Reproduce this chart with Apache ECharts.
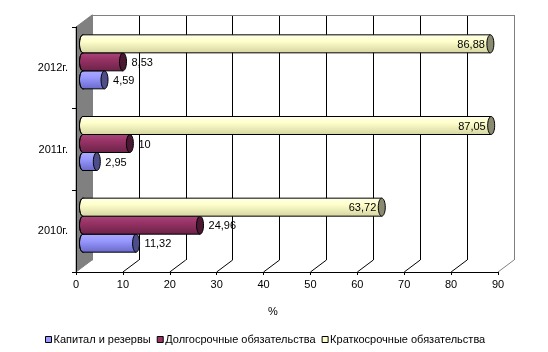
<!DOCTYPE html>
<html>
<head>
<meta charset="utf-8">
<script src="https://cdn.jsdelivr.net/npm/echarts@6/dist/echarts.min.js"></script>
<style>
  html, body { margin: 0; padding: 0; background: #fff; }
  #chart { width: 548px; height: 352px; }
</style>
</head>
<body>
<div id="chart"></div>
<script>
// данные
const categories = ['2010г.', '2011г.', '2012г.'];
const capital = [11.32, 2.95, 4.59];
const longTerm = [24.96, 10, 8.53];
const shortTerm = [63.72, 87.05, 86.88];
const xTicks = [0, 10, 20, 30, 40, 50, 60, 70, 80, 90];

// раскладка "3D": передняя плоскость, задняя стенка, плоскость столбцов
const FX = 76, FY = 27, FW = 422, FH = 245;
const DX = 16, DY = 12;
const BAR_H = 18;
const FONT = '"Liberation Sans", Arial, sans-serif';

const palettes = [
  { top: '#ababff', mid: '#9999ff', bottom: '#6a6acb', cap: '#4d4d8a' },
  { top: '#a8467a', mid: '#993366', bottom: '#6c2348', cap: '#4a1832' },
  { top: '#ffffe8', mid: '#ffffcc', bottom: '#d6d6a2', cap: '#8a8a70' }
];

const makeRender = (slot, pal) => (params, api) => {
  const v = api.value(0);
  const c = api.value(1);
  const start = api.coord([0, c]);
  const end = api.coord([v, c]);
  const yc = start[1] + (1 - slot) * BAR_H;
  const top = yc - BAR_H / 2;
  const bottom = yc + BAR_H / 2;
  const rx = 3.5;
  const fill = new echarts.graphic.LinearGradient(0, 0, 0, 1, [
    { offset: 0, color: pal.top },
    { offset: 0.35, color: pal.mid },
    { offset: 1, color: pal.bottom }
  ]);
  const inside = slot === 2;
  return {
    type: 'group',
    children: [
      { type: 'ellipse', shape: { cx: start[0], cy: yc, rx: rx, ry: BAR_H / 2 }, style: { fill: fill, stroke: '#000', lineWidth: 1 } },
      { type: 'rect', shape: { x: start[0], y: top, width: end[0] - start[0], height: BAR_H }, style: { fill: fill } },
      { type: 'line', shape: { x1: start[0], y1: top, x2: end[0], y2: top }, style: { stroke: '#000', lineWidth: 1 } },
      { type: 'line', shape: { x1: start[0], y1: bottom, x2: end[0], y2: bottom }, style: { stroke: '#000', lineWidth: 1 } },
      { type: 'ellipse', shape: { cx: end[0], cy: yc, rx: rx, ry: BAR_H / 2 }, style: { fill: pal.cap, stroke: '#000', lineWidth: 1 } },
      {
        type: 'text',
        style: {
          text: String(v).replace('.', ','),
          x: inside ? end[0] - rx - 2 : end[0] + rx + 5,
          y: yc + 1,
          align: inside ? 'right' : 'left',
          verticalAlign: 'middle',
          font: '11px ' + FONT,
          fill: '#000'
        }
      }
    ]
  };
};

const seriesDefs = [
  { name: 'Капитал и резервы', values: capital },
  { name: 'Долгосрочные обязательства', values: longTerm },
  { name: 'Краткосрочные обязательства', values: shortTerm }
];

const chart = echarts.init(document.getElementById('chart'));

// цвета линий задней стенки: 90 — серая граница
const splitColors = xTicks.map(t => (t === 0 || t === 90) ? '#808080' : '#000');

const option = {
  animation: false,
  textStyle: { fontFamily: FONT },
  grid: [
    { left: FX + DX, top: FY - DY, width: FW, height: FH },
    { left: FX, top: FY, width: FW, height: FH },
    { left: FX + 7, top: FY - 6, width: FW, height: FH }
  ],
  xAxis: [
    {
      gridIndex: 0, type: 'value', min: 0, max: 90, interval: 10, position: 'top',
      axisLine: { show: true, lineStyle: { color: '#808080', width: 1 } },
      axisTick: { show: false }, axisLabel: { show: false },
      splitLine: { show: true, lineStyle: { color: splitColors, width: 1 } }
    },
    {
      gridIndex: 1, type: 'value', min: 0, max: 90, interval: 10, z: 5,
      name: '%', nameLocation: 'middle', nameGap: 34,
      nameTextStyle: { color: '#000', fontSize: 11, padding: [0, 28, 0, 0] },
      axisLine: { show: true, lineStyle: { color: '#000', width: 1 } },
      axisTick: { show: true, length: 3, lineStyle: { color: '#000' } },
      axisLabel: { color: '#000', fontSize: 11, margin: 7 },
      splitLine: { show: false }
    },
    { gridIndex: 2, type: 'value', min: 0, max: 90, show: false }
  ],
  yAxis: [
    {
      gridIndex: 0, type: 'category', data: categories, position: 'right',
      axisLine: { show: true, lineStyle: { color: '#808080', width: 1 } },
      axisTick: { show: false }, axisLabel: { show: false }, splitLine: { show: false }
    },
    {
      gridIndex: 1, type: 'category', data: categories, z: 5,
      axisLine: { show: true, lineStyle: { color: '#000', width: 1 } },
      axisTick: { show: true, length: 4, lineStyle: { color: '#000' } },
      axisLabel: { color: '#000', fontSize: 11, margin: 8 },
      splitLine: { show: false }
    },
    { gridIndex: 2, type: 'category', data: categories, show: false }
  ],
  legend: {
    left: 40, top: 329,
    icon: 'rect', itemWidth: 6, itemHeight: 6, itemGap: 6,
    itemStyle: { borderColor: '#000', borderWidth: 1 },
    textStyle: { color: '#000', fontSize: 11, fontFamily: FONT, padding: [0, 0, 0, -3] },
    data: seriesDefs.map(s => s.name)
  },
  series: seriesDefs.map((s, i) => ({
    name: s.name,
    type: 'custom',
    xAxisIndex: 2,
    yAxisIndex: 2,
    z: 3,
    itemStyle: { color: palettes[i].mid },
    encode: { x: 0, y: 1 },
    data: s.values.map((v, k) => [v, k]),
    renderItem: makeRender(i, palettes[i])
  }))
};

chart.setOption(option);

// боковая стенка и пол строятся по пикселям осей
const frontBottom = FY + FH;
const backBottom = FY + FH - DY;
const fx = v => chart.convertToPixel({ xAxisIndex: 1 }, v);
const bx = v => chart.convertToPixel({ xAxisIndex: 0 }, v);

const graphics = [
  {
    type: 'polygon', z: 1,
    shape: { points: [[fx(0), FY], [bx(0), FY - DY], [bx(0), backBottom], [fx(0), frontBottom]] },
    style: { fill: '#808080', stroke: '#808080', lineWidth: 1 }
  }
];
xTicks.filter(t => t > 0).forEach(t => {
  graphics.push({
    type: 'line', z: 1,
    shape: { x1: fx(t), y1: frontBottom, x2: bx(t), y2: backBottom },
    style: { stroke: t === 90 ? '#808080' : '#000', lineWidth: 1 }
  });
});
chart.setOption({ graphic: graphics });
</script>
</body>
</html>
